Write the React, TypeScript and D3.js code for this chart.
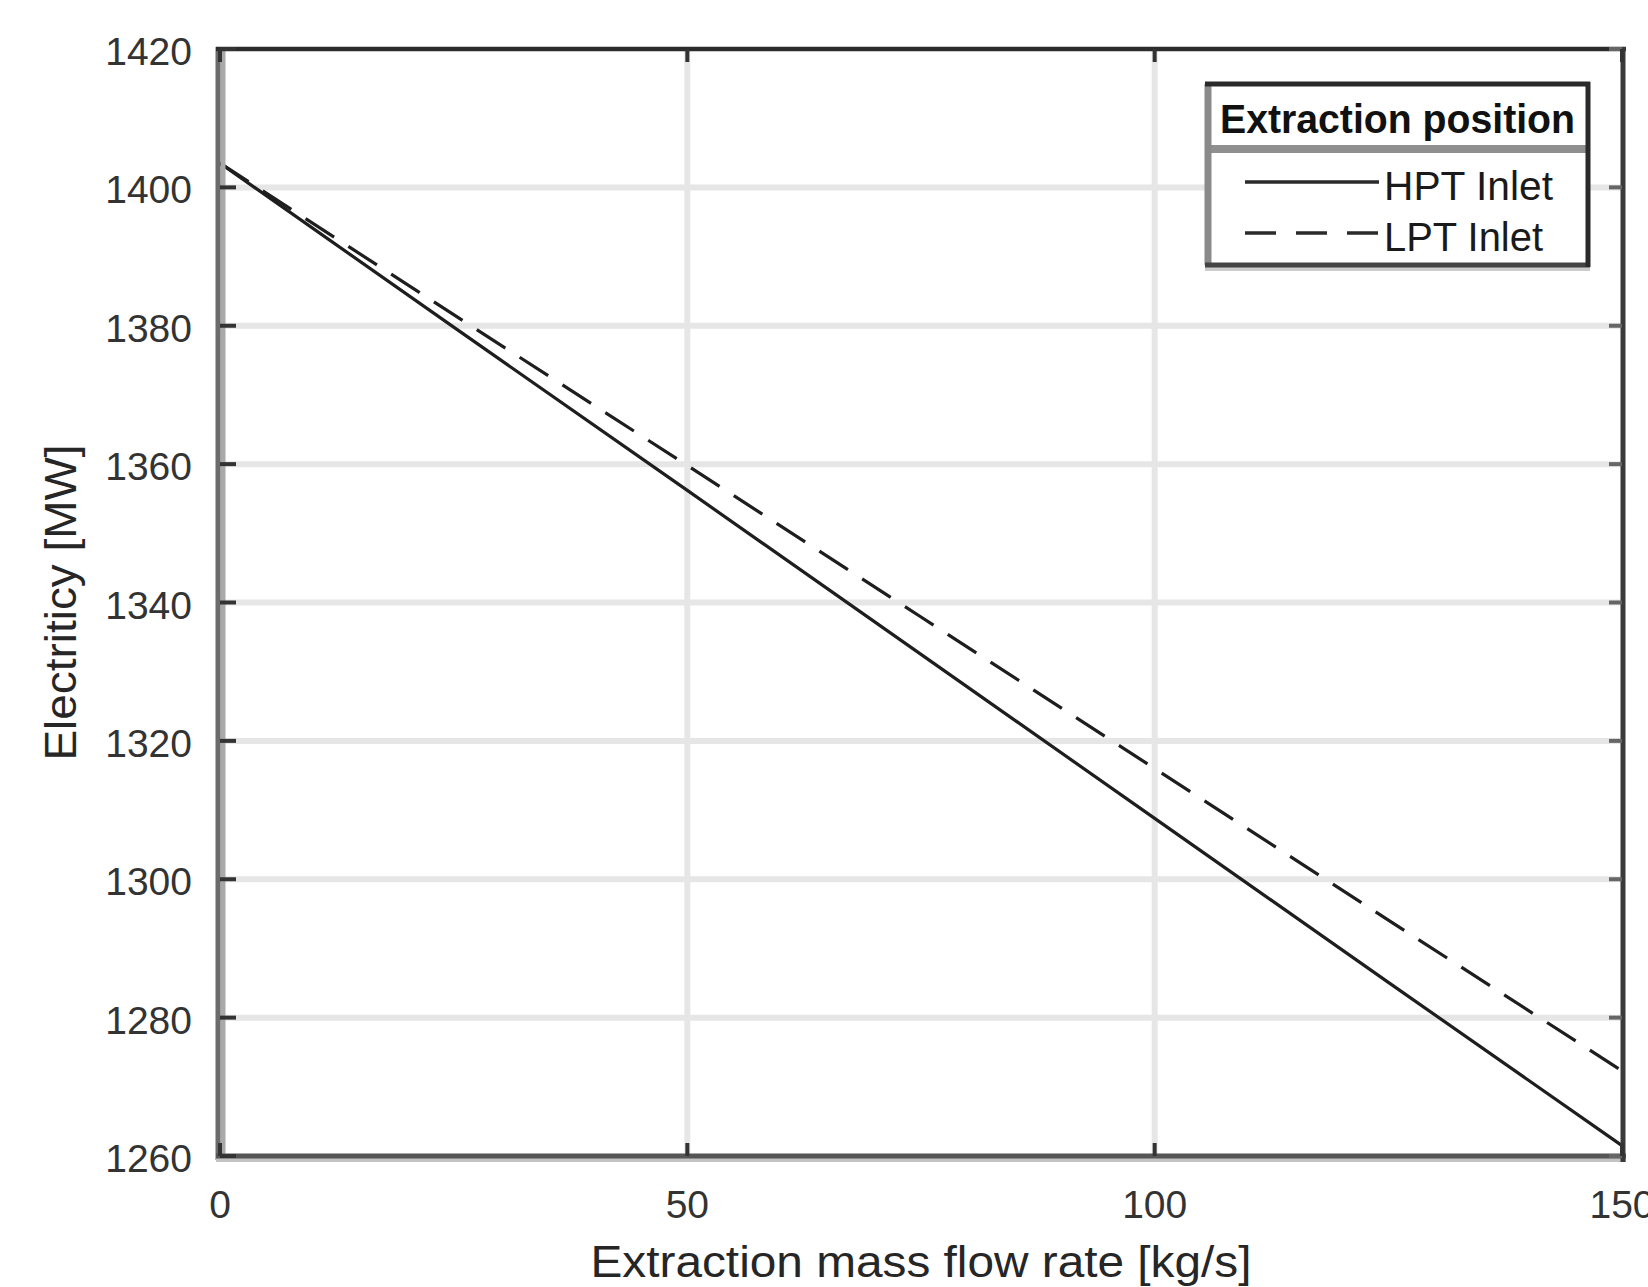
import React from 'react';
import * as d3 from 'd3';

// extraction mass flow rate [kg/s]
const flowRates = [0, 25, 50, 75, 100, 125, 150];
// electricity [MW]
const hptInlet = [1403.5, 1379.8, 1356.2, 1332.5, 1308.8, 1285.1, 1261.5];
const lptInlet = [1403.5, 1381.6, 1359.8, 1337.9, 1316.0, 1294.1, 1272.3];

const xTicks = [0, 50, 100, 150];
const yTicks = [1260, 1280, 1300, 1320, 1340, 1360, 1380, 1400, 1420];

const legendTitle = 'Extraction position';
const seriesNames = ['HPT Inlet', 'LPT Inlet'];
const xLabel = 'Extraction mass flow rate [kg/s]';
const yLabel = 'Electriticy [MW]';

const W = 1648;
const H = 1287;
const plot = { left: 220, right: 1622, top: 49, bottom: 1156 };
const font = '"Liberation Sans", Arial, sans-serif';

export default function App() {
  const x = d3.scaleLinear().domain([0, 150]).range([plot.left, plot.right]);
  const y = d3.scaleLinear().domain([1260, 1420]).range([plot.bottom, plot.top]);

  const line = d3.line<number>()
    .x((_, i) => x(flowRates[i]))
    .y(d => y(d));

  const tickLen = 13;
  const series = [
    { name: seriesNames[0], values: hptInlet, dash: null },
    { name: seriesNames[1], values: lptInlet, dash: '34 17' },
  ];

  // legend box
  const lg = { x0: 1205, y0: 84, x1: 1588, y1: 265, sep: 149 };

  return (
    <svg width={W} height={H} style={{ position: 'absolute', left: 0, top: 0, background: '#fff' }}
      fontFamily={font}>
      <rect x={0} y={0} width={W} height={H} fill="#fff" />

      {/* grid */}
      <g stroke="#e6e6e6" strokeWidth={6}>
        {xTicks.slice(1, -1).map(t => (
          <line key={'gx' + t} x1={x(t)} x2={x(t)} y1={plot.top} y2={plot.bottom} />
        ))}
        {yTicks.slice(1, -1).map(t => (
          <line key={'gy' + t} x1={plot.left} x2={plot.right} y1={y(t)} y2={y(t)} />
        ))}
      </g>

      {/* data lines */}
      {series.map(s => (
        <path key={s.name} d={line(s.values) || ''} fill="none" stroke="#1e1e1e"
          strokeWidth={3.2} strokeDasharray={s.dash || undefined} />
      ))}

      {/* axes frame */}
      <line x1={plot.left + 3} x2={plot.left + 3} y1={plot.top} y2={plot.bottom + 4} stroke="#a9a9a9" strokeWidth={5} />
      <line x1={plot.left - 2} x2={plot.left - 2} y1={plot.top - 2} y2={plot.bottom + 4} stroke="#6b6b6b" strokeWidth={5} />
      <line x1={plot.left - 4} x2={plot.right + 4} y1={plot.bottom + 4} y2={plot.bottom + 4} stroke="#c3c3c3" strokeWidth={4} />
      <line x1={plot.left - 4} x2={plot.right + 4} y1={plot.bottom} y2={plot.bottom} stroke="#555" strokeWidth={5} />
      <line x1={plot.left - 4} x2={plot.right + 4} y1={plot.top} y2={plot.top} stroke="#2c2c2c" strokeWidth={4.5} />
      <line x1={plot.right + 1} x2={plot.right + 1} y1={plot.top - 2} y2={plot.bottom + 6} stroke="#3a3a3a" strokeWidth={5} />

      {/* ticks */}
      <g stroke="#333" strokeWidth={4}>
        {yTicks.map(t => (
          <g key={'ty' + t}>
            <line x1={plot.left} x2={plot.left + tickLen + 3} y1={y(t)} y2={y(t)} />
            <line x1={plot.right - tickLen} x2={plot.right} y1={y(t)} y2={y(t)} stroke="#666" />
          </g>
        ))}
        {xTicks.map(t => (
          <g key={'tx' + t}>
            <line x1={x(t)} x2={x(t)} y1={plot.bottom} y2={plot.bottom - tickLen} />
            <line x1={x(t)} x2={x(t)} y1={plot.top} y2={plot.top + tickLen} />
          </g>
        ))}
      </g>

      {/* tick labels */}
      <g fill="#333" fontSize={39}>
        {yTicks.map(t => (
          <text key={'ly' + t} x={192} y={y(t) + 16} textAnchor="end">{t}</text>
        ))}
        {xTicks.map(t => (
          <text key={'lx' + t} x={x(t)} y={1218} textAnchor="middle">{t}</text>
        ))}
      </g>

      {/* axis labels */}
      <text x={(plot.left + plot.right) / 2} y={1277} textAnchor="middle" fontSize={44}
        fill="#262626" textLength={661} lengthAdjust="spacingAndGlyphs">{xLabel}</text>
      <text transform={`translate(76,${(plot.top + plot.bottom) / 2}) rotate(-90)`} textAnchor="middle"
        fontSize={44} fill="#262626" textLength={316} lengthAdjust="spacingAndGlyphs">{yLabel}</text>

      {/* legend */}
      <g>
        <rect x={lg.x0} y={lg.y0} width={lg.x1 - lg.x0} height={lg.y1 - lg.y0} fill="#fff" />
        <line x1={lg.x0} x2={lg.x1} y1={lg.sep} y2={lg.sep} stroke="#8f8f8f" strokeWidth={8} />
        <line x1={lg.x0 + 3} x2={lg.x0 + 3} y1={lg.y0} y2={lg.y1} stroke="#8a8a8a" strokeWidth={7} />
        <line x1={lg.x0} x2={lg.x1 + 2} y1={lg.y1 + 4} y2={lg.y1 + 4} stroke="#cbcbcb" strokeWidth={4} />
        <line x1={lg.x0} x2={lg.x1 + 2} y1={lg.y1} y2={lg.y1} stroke="#444" strokeWidth={5} />
        <line x1={lg.x0} x2={lg.x1 + 2} y1={lg.y0} y2={lg.y0} stroke="#2a2a2a" strokeWidth={5} />
        <line x1={lg.x1} x2={lg.x1} y1={lg.y0 - 2} y2={lg.y1 + 2} stroke="#2a2a2a" strokeWidth={5} />
        <text x={1220} y={133} fontSize={40} fontWeight="bold" fill="#111"
          textLength={355} lengthAdjust="spacingAndGlyphs">{legendTitle}</text>
        {series.map((s, i) => {
          const ly = 182 + i * 51;
          return (
            <g key={'lg' + s.name}>
              <line x1={1245} x2={1379} y1={ly} y2={ly} stroke="#2a2a2a" strokeWidth={3.5}
                strokeDasharray={s.dash ? '31 20' : undefined} />
              <text x={1384} y={ly + 18} fontSize={41} fill="#1a1a1a"
                textLength={i === 0 ? 169 : 159} lengthAdjust="spacingAndGlyphs">{s.name}</text>
            </g>
          );
        })}
      </g>
    </svg>
  );
}
